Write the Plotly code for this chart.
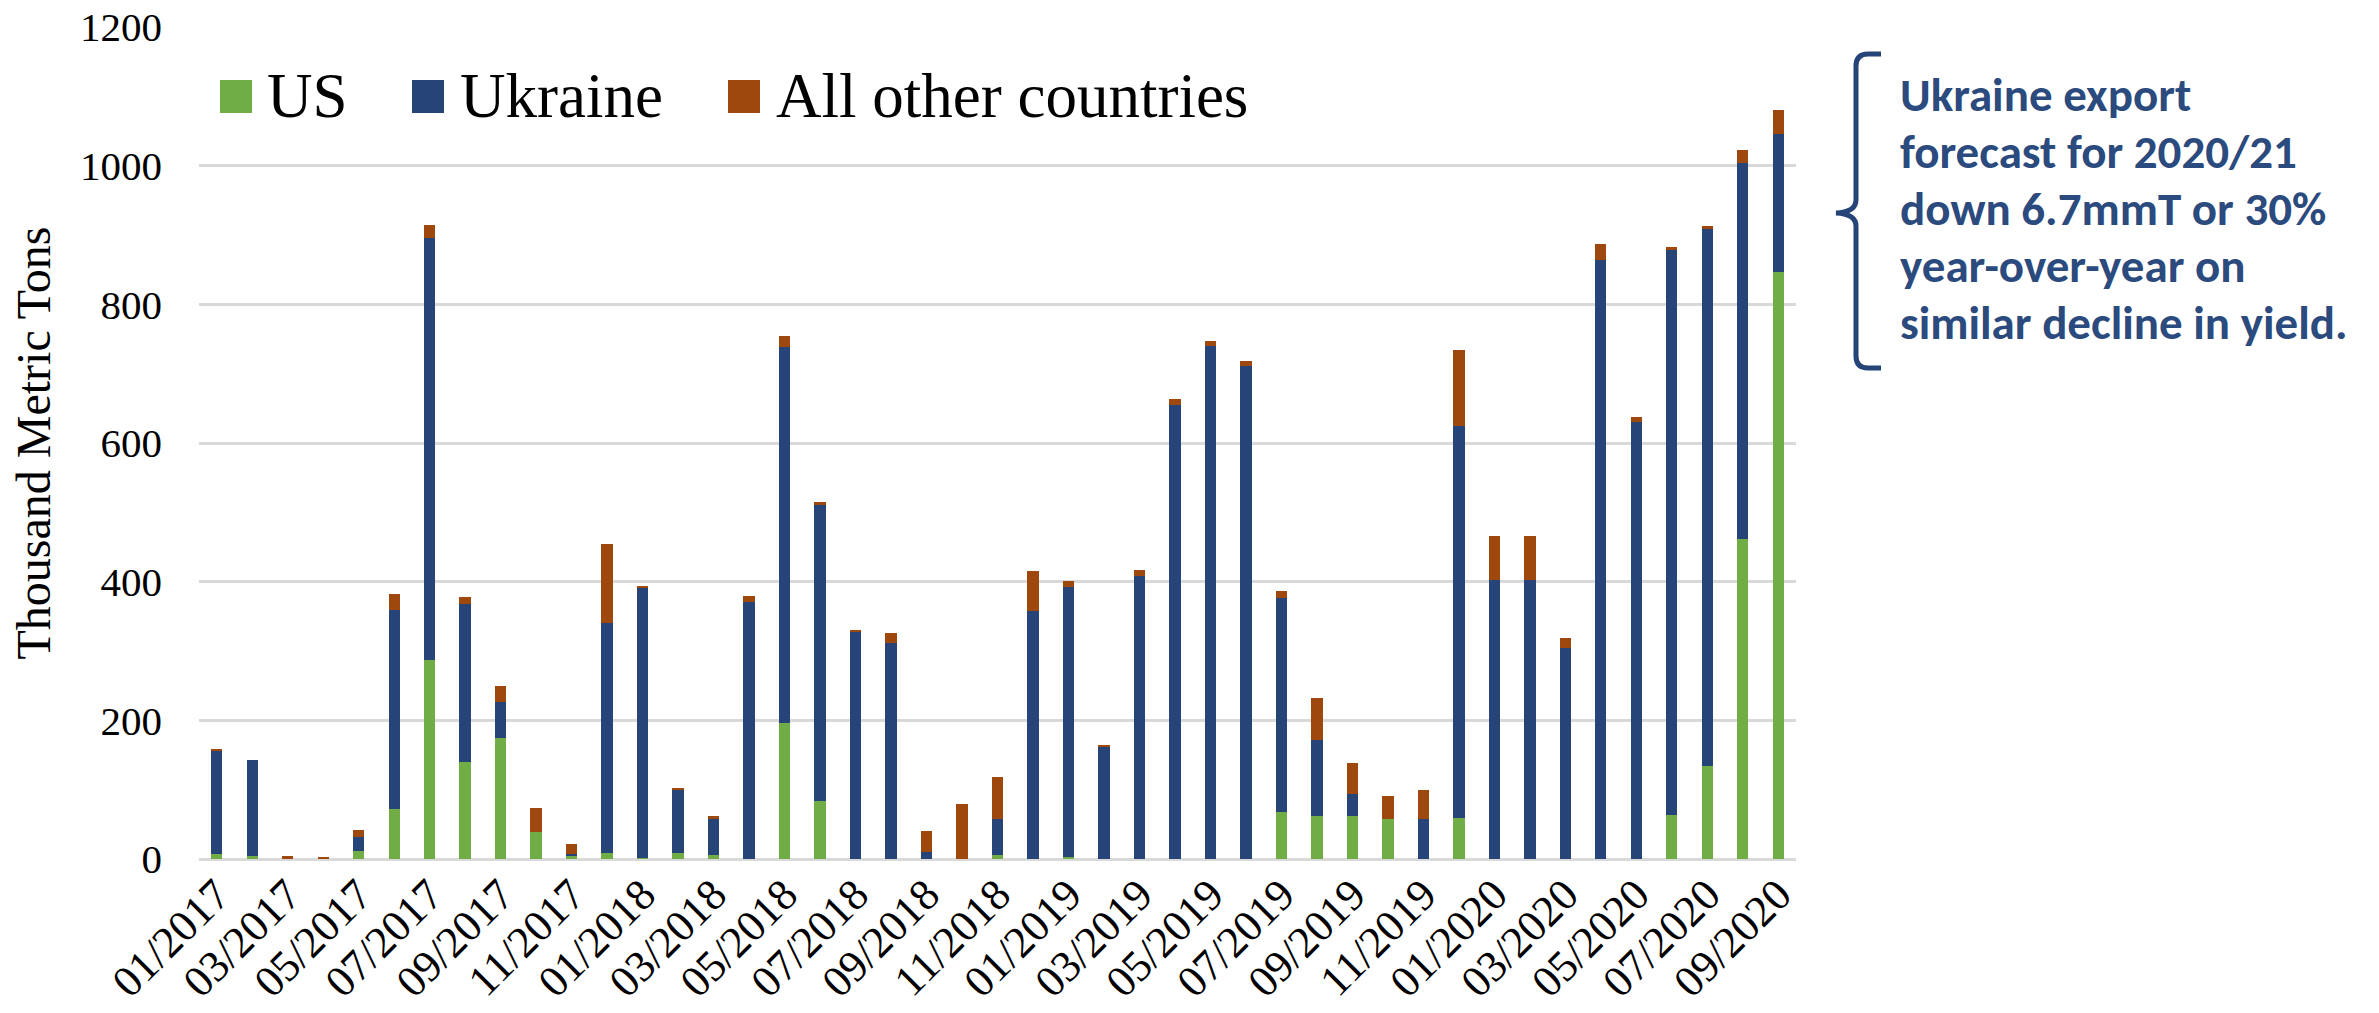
import plotly.graph_objects as go

# Monthly exports, thousand metric tons (01/2017 - 09/2020)
months = [
    "01/2017", "02/2017", "03/2017", "04/2017", "05/2017", "06/2017",
    "07/2017", "08/2017", "09/2017", "10/2017", "11/2017", "12/2017",
    "01/2018", "02/2018", "03/2018", "04/2018", "05/2018", "06/2018",
    "07/2018", "08/2018", "09/2018", "10/2018", "11/2018", "12/2018",
    "01/2019", "02/2019", "03/2019", "04/2019", "05/2019", "06/2019",
    "07/2019", "08/2019", "09/2019", "10/2019", "11/2019", "12/2019",
    "01/2020", "02/2020", "03/2020", "04/2020", "05/2020", "06/2020",
    "07/2020", "08/2020", "09/2020",
]
us = [
    7, 5, 0, 0, 11, 72, 287, 140, 175, 39, 4, 8,
    1, 8, 6, 0, 196, 84, 0, 0, 0, 0, 6, 0,
    3, 0, 0, 0, 0, 0, 68, 62, 62, 58, 0, 59,
    0, 0, 0, 0, 0, 63, 134, 461, 846,
]
ukraine = [
    150, 138, 0, 0, 21, 287, 609, 228, 52, 0, 3, 333,
    390, 92, 52, 371, 542, 427, 327, 312, 10, 0, 52, 358,
    390, 161, 408, 655, 740, 711, 308, 109, 32, 0, 58, 565,
    403, 403, 305, 864, 630, 816, 775, 543, 200,
]
other = [
    2, 0, 4, 2, 10, 23, 18, 10, 23, 34, 14, 113,
    2, 3, 4, 8, 17, 4, 4, 14, 31, 80, 60, 58,
    8, 3, 9, 9, 7, 7, 10, 61, 45, 33, 41, 110,
    63, 63, 14, 23, 7, 3, 4, 18, 35,
]
tick_labels = months[::2]
y_ticks = [0, 200, 400, 600, 800, 1000, 1200]

series_names = ["US", "Ukraine", "All other countries"]
series_values = [us, ukraine, other]
series_colors = ["#70AD47", "#264478", "#9E480E"]

note_lines = [
    "Ukraine export",
    "forecast for 2020/21",
    "down 6.7mmT or 30%",
    "year-over-year on",
    "similar decline in yield.",
]

W, H = 2379, 1013
PL, PR, PT, PB = 199, 1796, 27, 859


def px(x):
    return (x - PL) / (PR - PL)


def py(y):
    return (PB - y) / (PB - PT)


SERIF = "Liberation Serif, Times New Roman, serif"
NOTE_BLUE = "#2B4A7D"

fig = go.Figure()
for name, vals, color in zip(series_names, series_values, series_colors):
    fig.add_trace(go.Bar(
        x=months, y=vals, name=name,
        marker=dict(color=color, line=dict(width=0)),
        showlegend=False,
    ))

# Legend row drawn as swatches + labels
legend_pos = [(220, 265), (412, 458), (728, 774)]
for (sx, tx), name, color in zip(legend_pos, series_names, series_colors):
    fig.add_shape(type="rect", xref="paper", yref="paper",
                  x0=px(sx), x1=px(sx + 32), y0=py(113), y1=py(80),
                  fillcolor=color, line=dict(width=0))
    fig.add_annotation(xref="paper", yref="paper", x=px(tx), y=py(96),
                       xanchor="left", yanchor="middle", showarrow=False,
                       text=name, font=dict(family=SERIF, size=63, color="black"))


# Curly bracket beside the note
def path_from(points_cmds):
    out = []
    for cmd, pts in points_cmds:
        coords = " ".join(f"{px(x):.5f},{py(y):.5f}" for x, y in pts)
        out.append(f"{cmd} {coords}")
    return " ".join(out)


bracket = path_from([
    ("M", [(1881, 54)]), ("L", [(1868, 54)]), ("Q", [(1856, 54), (1856, 66)]),
    ("L", [(1856, 200)]), ("Q", [(1856, 212), (1836, 213)]),
    ("Q", [(1856, 214), (1856, 226)]),
    ("L", [(1856, 356)]), ("Q", [(1856, 368), (1868, 368)]), ("L", [(1881, 368)]),
])
fig.add_shape(type="path", xref="paper", yref="paper", path=bracket,
              line=dict(color="#264478", width=5))

for i, line in enumerate(note_lines):
    fig.add_annotation(
        xref="paper", yref="paper", x=px(1898), y=py(95 + 57 * i),
        xanchor="left", yanchor="middle", align="left", showarrow=False,
        text=line,
        font=dict(family="Carlito, Lato, sans-serif", size=47,
                  color=NOTE_BLUE, weight="bold"),
    )

fig.update_layout(
    width=W, height=H, barmode="stack", bargap=0.68,
    margin=dict(l=PL, r=W - PR, t=PT, b=H - PB),
    paper_bgcolor="white", plot_bgcolor="white",
    font=dict(family=SERIF, color="black"),
)
fig.update_xaxes(
    type="category", categoryorder="array", categoryarray=months,
    tickmode="array", tickvals=tick_labels, ticktext=tick_labels,
    tickangle=-45, tickfont=dict(family=SERIF, size=44, color="black"),
    showgrid=False, showline=False, ticks="", automargin=False,
)
fig.update_yaxes(
    range=[0, 1200], tickmode="array", tickvals=y_ticks,
    tickfont=dict(family=SERIF, size=41, color="black"),
    showgrid=True, gridcolor="#D9D9D9", gridwidth=2.5,
    zeroline=True, zerolinecolor="#D9D9D9", zerolinewidth=2.5,
    showline=False, ticks="", ticklabelstandoff=36, automargin=False,
    title=dict(text="Thousand Metric Tons", standoff=14,
               font=dict(family=SERIF, size=48, color="black")),
)

fig.write_html("out.html")
